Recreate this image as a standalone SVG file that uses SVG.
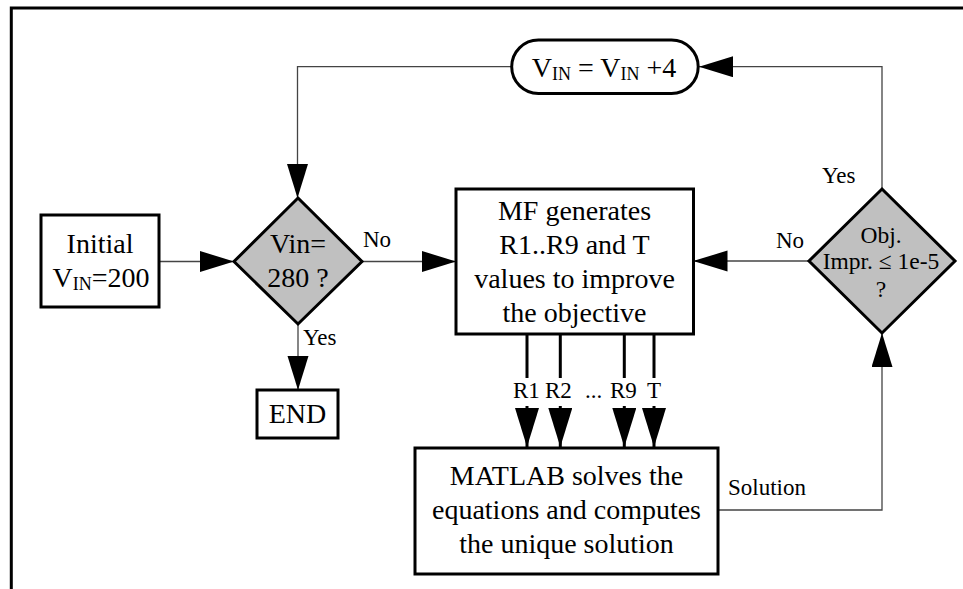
<svg xmlns="http://www.w3.org/2000/svg" width="963" height="589" viewBox="0 0 963 589">
<defs>
<marker id="ah" markerUnits="userSpaceOnUse" markerWidth="34" markerHeight="22" refX="34" refY="10.5" orient="auto"><path d="M0,0 L34,10.5 L0,21 z" fill="#000"/></marker>
<marker id="ahb" markerUnits="userSpaceOnUse" markerWidth="39" markerHeight="24" refX="39" refY="12" orient="auto"><path d="M0,0 L39,12 L0,24 z" fill="#000"/></marker>
<style>
.t{font-family:"Liberation Serif","Times New Roman",serif;font-size:28px;fill:#000;text-anchor:middle}
.l{font-family:"Liberation Serif","Times New Roman",serif;font-size:23px;fill:#000}
.d{font-size:23.5px}
.sub{font-size:18px}
.box{fill:#fff;stroke:#000;stroke-width:3}
.dia{fill:#c0c0c0;stroke:#000;stroke-width:3}
.c{fill:none;stroke:#444;stroke-width:1.3}
.cr{fill:none;stroke:#000;stroke-width:3}
</style>
</defs>
<rect width="963" height="589" fill="#fff"/>
<path d="M11.3,589 V8 H963" fill="none" stroke="#000" stroke-width="3"/>

<g id="connectors">
<path class="c" d="M159,261.5 H234" marker-end="url(#ah)"/>
<path class="c" d="M362,261.5 H456" marker-end="url(#ah)"/>
<path class="c" d="M298,324 V390" marker-end="url(#ah)"/>
<path class="c" d="M882,189 V66.7 H699" marker-end="url(#ah)"/>
<path class="c" d="M511.7,66.7 H297.5 V198" marker-end="url(#ah)"/>
<path class="c" d="M809,261 H693.5" marker-end="url(#ah)"/>
<path class="c" d="M718,510 H882 V333" marker-end="url(#ah)"/>
<path class="cr" d="M527,334 V378 M560.3,334 V378 M624.3,334 V378 M654,334 V378"/>
<path class="cr" d="M527,406 V447" marker-end="url(#ahb)"/>
<path class="cr" d="M560.3,406 V447" marker-end="url(#ahb)"/>
<path class="cr" d="M624.3,406 V447" marker-end="url(#ahb)"/>
<path class="cr" d="M654,406 V447" marker-end="url(#ahb)"/>
<text class="l" x="363" y="247">No</text>
<text class="l" x="303" y="345">Yes</text>
<text class="l" x="822" y="183">Yes</text>
<text class="l" x="776" y="248">No</text>
<text class="l" x="728" y="495">Solution</text>
<text class="l" x="513" y="398">R1</text>
<text class="l" x="545" y="398">R2</text>
<text class="l" x="585" y="398">...</text>
<text class="l" x="610" y="398">R9</text>
<text class="l" x="647" y="398">T</text>
</g>

<g id="initial">
<rect class="box" x="41" y="215" width="118" height="92"/>
<text class="t" x="100" y="253">Initial</text>
<text class="t" x="101" y="287">V<tspan class="sub" dy="3">IN</tspan><tspan dy="-3">=200</tspan></text>
</g>

<g id="decision-vin">
<polygon class="dia" points="298,198 362,261.5 298,324 234,261.5"/>
<text class="t" x="298" y="253">Vin=</text>
<text class="t" x="298" y="287">280 ?</text>
</g>

<g id="end">
<rect class="box" x="257" y="390" width="81" height="48"/>
<text class="t" x="297.5" y="423">END</text>
</g>

<g id="increment">
<rect class="box" x="511.7" y="40" width="186.5" height="53.4" rx="26.7" ry="26.7"/>
<text class="t" x="604" y="77">V<tspan class="sub" dy="3">IN</tspan><tspan dy="-3"> = V</tspan><tspan class="sub" dy="3">IN</tspan><tspan dy="-3"> +4</tspan></text>
</g>

<g id="mf">
<rect class="box" x="456" y="189" width="237.5" height="145"/>
<text class="t" x="574.5" y="220">MF generates</text>
<text class="t" x="574.5" y="254">R1..R9 and T</text>
<text class="t" x="574.5" y="288">values to improve</text>
<text class="t" x="574.5" y="322">the objective</text>
</g>

<g id="decision-obj">
<polygon class="dia" points="882,189 955,261 882,333 809,261"/>
<text class="t d" x="881" y="243">Obj.</text>
<text class="t d" x="881" y="269">Impr. ≤ 1e-5</text>
<text class="t d" x="881" y="297">?</text>
</g>

<g id="matlab">
<rect class="box" x="415" y="448" width="303" height="126"/>
<text class="t" x="566.5" y="485">MATLAB solves the</text>
<text class="t" x="566.5" y="519">equations and computes</text>
<text class="t" x="566.5" y="553">the unique solution</text>
</g>
</svg>
